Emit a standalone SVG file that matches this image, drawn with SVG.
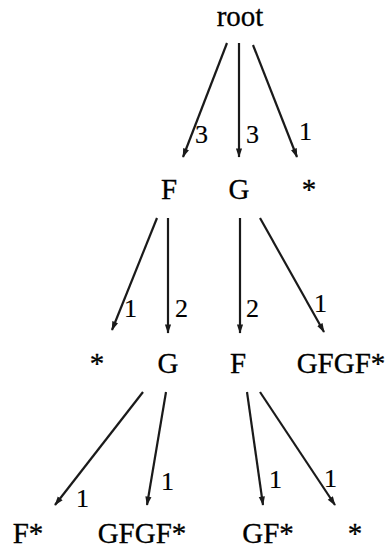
<svg xmlns="http://www.w3.org/2000/svg" width="387" height="548" viewBox="0 0 387 548">
<style>
.n{font-family:"Liberation Serif","Times New Roman",serif;font-size:29px;fill:#000;stroke:#000;stroke-width:0.3;text-anchor:middle}
.l{font-family:"Liberation Serif","Times New Roman",serif;font-size:26px;fill:#000;stroke:#000;stroke-width:0.2}
.e{stroke:#1a1a1a;stroke-width:2.2;fill:none;marker-end:url(#ah)}
</style>
<defs>
<marker id="ah" viewBox="0 0 12 10" refX="11" refY="5" markerWidth="4.5" markerHeight="3.5" orient="auto" markerUnits="strokeWidth">
<path d="M0,1 L12,5 L0,9 Z" fill="#1a1a1a"/>
</marker>
</defs>
<rect width="387" height="548" fill="#fff"/>
<g id="connectors">
<line class="e" x1="227" y1="43" x2="183" y2="157"/>
<line class="e" x1="239" y1="43" x2="239" y2="157"/>
<line class="e" x1="253" y1="45" x2="297" y2="157"/>
<line class="e" x1="157" y1="218" x2="112" y2="330"/>
<line class="e" x1="168" y1="218" x2="168" y2="333"/>
<line class="e" x1="240" y1="218" x2="240" y2="333"/>
<line class="e" x1="260" y1="218" x2="324" y2="332"/>
<line class="e" x1="143" y1="392" x2="55" y2="505"/>
<line class="e" x1="166" y1="392" x2="147" y2="505"/>
<line class="e" x1="247" y1="392" x2="263" y2="505"/>
<line class="e" x1="260" y1="392" x2="335" y2="505"/>
<text class="l" x="195" y="143">3</text>
<text class="l" x="246" y="143">3</text>
<text class="l" x="299" y="140">1</text>
<text class="l" x="124" y="317">1</text>
<text class="l" x="175" y="317">2</text>
<text class="l" x="246" y="317">2</text>
<text class="l" x="314" y="312">1</text>
<text class="l" x="76" y="507">1</text>
<text class="l" x="161" y="490">1</text>
<text class="l" x="269" y="488">1</text>
<text class="l" x="324" y="487">1</text>
</g>
<g id="root"><text class="n" x="240" y="26">root</text></g>
<g id="n1F"><text class="n" x="169" y="199">F</text></g>
<g id="n1G"><text class="n" x="239" y="199">G</text></g>
<g id="n1S"><text class="n" x="309" y="199">*</text></g>
<g id="n2S"><text class="n" x="97" y="373">*</text></g>
<g id="n2G"><text class="n" x="168" y="373">G</text></g>
<g id="n2F"><text class="n" x="238" y="373">F</text></g>
<g id="n2GFGF"><text class="n" x="341" y="373">GFGF*</text></g>
<g id="n3F"><text class="n" x="28" y="543">F*</text></g>
<g id="n3GFGF"><text class="n" x="142" y="543">GFGF*</text></g>
<g id="n3GF"><text class="n" x="268" y="543">GF*</text></g>
<g id="n3S"><text class="n" x="355" y="543">*</text></g>
</svg>
